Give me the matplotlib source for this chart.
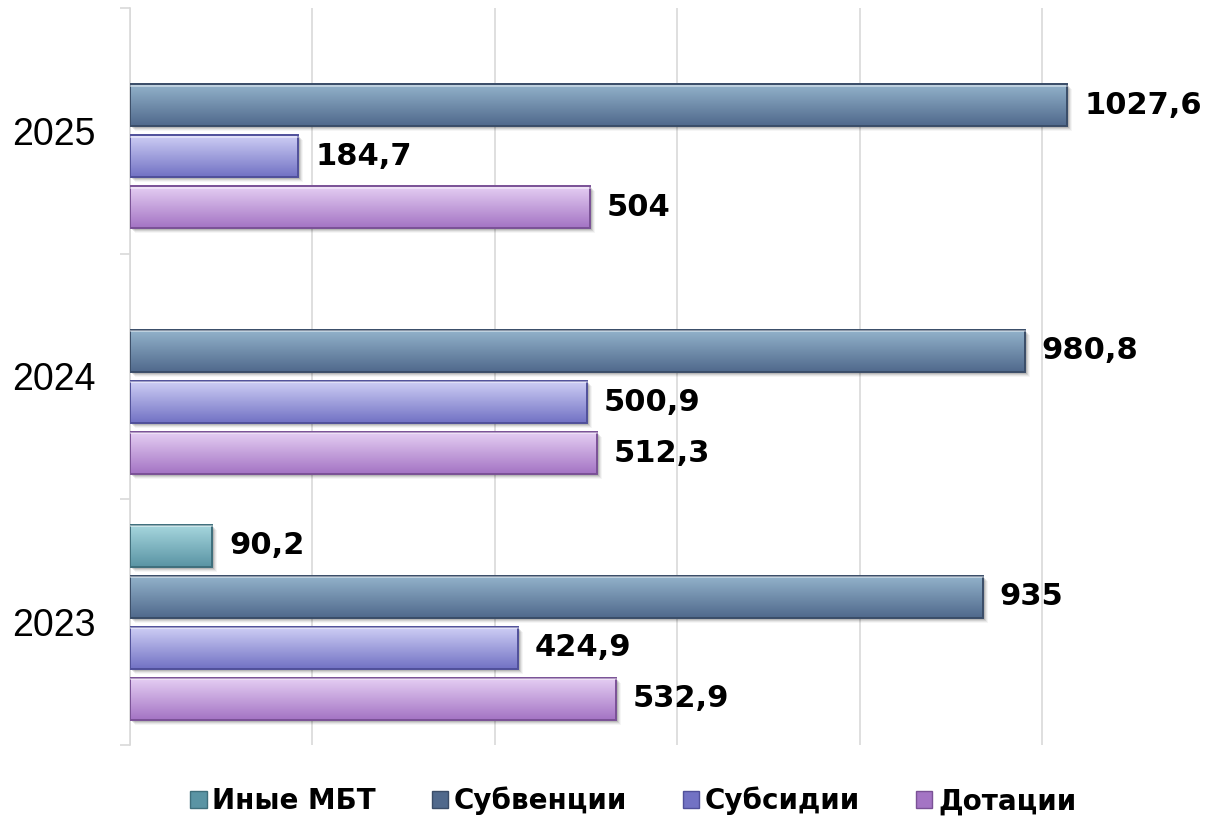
import numpy as np
import matplotlib
matplotlib.use("Agg")
import matplotlib.pyplot as plt
from matplotlib.colors import LinearSegmentedColormap
from matplotlib.patches import Rectangle

# data
years = ["2023", "2024", "2025"]
series = ["Иные МБТ", "Субвенции", "Субсидии", "Дотации"]
inye_mbt = [90.2, None, None]
subvencii = [935, 980.8, 1027.6]
subsidii = [424.9, 500.9, 184.7]
dotacii = [532.9, 512.3, 504]
values = [inye_mbt, subvencii, subsidii, dotacii]

# gradient colours (top, bottom, edge)
grad = [
    ("#a8d8df", "#5a94a4", "#3f6f7c"),
    ("#94b4cc", "#50698c", "#3a4d68"),
    ("#d0d0f6", "#7272c4", "#50509a"),
    ("#e6d0f4", "#a474c4", "#7a5196"),
]

def fmt(v):
    s = ("%.1f" % v).rstrip("0").rstrip(".")
    return s.replace(".", ",")

fig = plt.figure(figsize=(12.2, 8.19), dpi=100)
ax = fig.add_axes([130 / 1220, 74 / 819, 1094.6 / 1220, 737 / 819])

step = 0.2076
bh = 0.171
offsets = [1.5, 0.5, -0.5, -1.5]
xpx = 1094.6 / 1200  # px per unit
ypx = 737 / 3

g = np.linspace(0, 1, 64).reshape(-1, 1)
for si, vals in enumerate(values):
    top, bot, edge = grad[si]
    cmap = LinearSegmentedColormap.from_list("g%d" % si, [top, bot])
    for ci, v in enumerate(vals):
        if v is None:
            continue
        yc = ci + offsets[si] * step
        y0, y1 = yc - bh / 2, yc + bh / 2
        # soft shadow
        for k, a in enumerate([0.12, 0.09, 0.06, 0.04]):
            d = k + 2
            ax.add_patch(Rectangle((d / xpx, y0 - d / ypx), v, bh,
                                   facecolor="#000000", alpha=a, lw=0, zorder=1.5))
        ax.imshow(g, extent=[0, v, y0, y1], origin="upper", aspect="auto",
                  cmap=cmap, zorder=2, interpolation="bilinear")
        ax.add_patch(Rectangle((0, y0), v, bh, facecolor="none",
                               edgecolor=edge, lw=1.4, zorder=3))
        ax.plot([0, v], [y1 - 1.5 / ypx] * 2, color="white", alpha=0.5, lw=1.2, zorder=3)
        ax.annotate(fmt(v), (v, yc), xytext=(12, 0), textcoords="offset points",
                    va="center", ha="left", fontsize=22, fontweight="bold",
                    family="DejaVu Sans", color="black", zorder=4)

ax.set_xlim(0, 1200)
ax.set_ylim(-0.5, 2.5)
ax.set_xticks([0, 200, 400, 600, 800, 1000])
ax.xaxis.grid(True, color="#d9d9d9", lw=1.2)
ax.set_axisbelow(True)
ax.tick_params(axis="x", length=0, labelbottom=False)
ax.set_yticks([-0.5, 0.5, 1.5, 2.5])
ax.set_yticks([0, 1, 2], minor=True)
ax.set_yticklabels([], minor=False)
ax.set_yticklabels(years, minor=True, fontsize=27, family="Liberation Sans")
ax.tick_params(axis="y", which="major", length=7, color="#d9d9d9", width=1.2)
ax.tick_params(axis="y", which="minor", length=0, pad=25)
for sp in ["top", "right", "bottom"]:
    ax.spines[sp].set_visible(False)
ax.spines["left"].set_color("#d9d9d9")
ax.spines["left"].set_linewidth(1.2)

handles = [Rectangle((0, 0), 1, 1, facecolor=grad[i][1], edgecolor=grad[i][2], lw=1)
           for i in range(4)]
fig.legend(handles, series, loc="center", bbox_to_anchor=(0.519, 0.022), ncol=4,
           frameon=False, handlelength=0.6, handleheight=0.6, handletextpad=0.2,
           columnspacing=2.0, prop={"family": "DejaVu Sans", "weight": "bold", "size": 20})

fig.savefig("out.png", dpi=100)
